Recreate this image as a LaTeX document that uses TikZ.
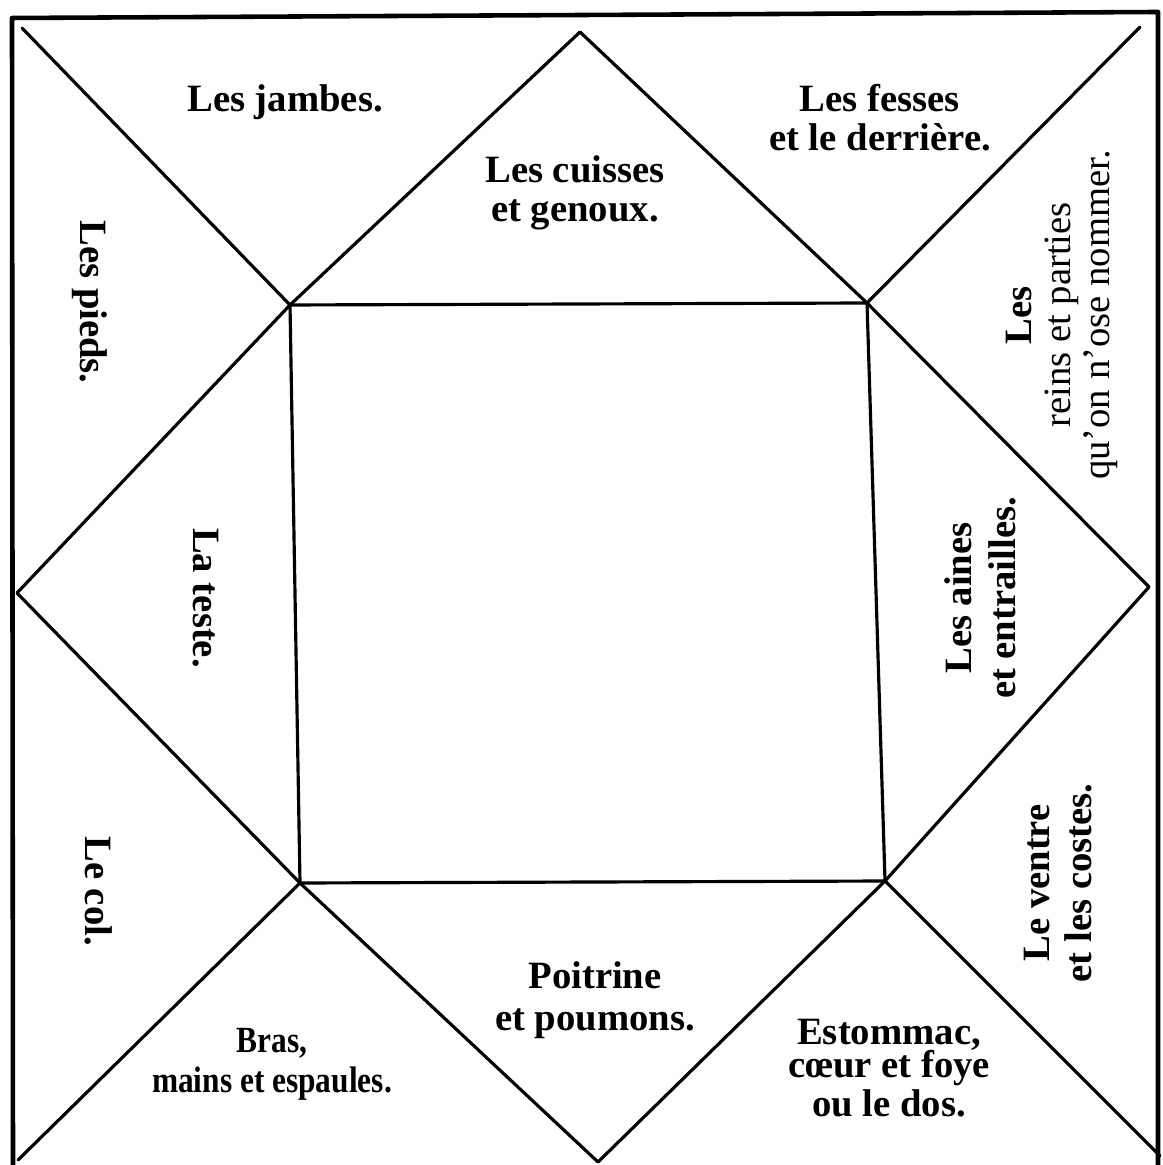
\documentclass[tikz,border=0pt]{standalone}
\usepackage{fontspec}
\setmainfont{Liberation Serif}

\begin{document}
\begin{tikzpicture}[
    x=0.01cm, y=-0.01cm,
    frame/.style={line width=1.3pt, line cap=round, line join=round},
    fold/.style={line width=0.9pt, line cap=round, line join=round},
    region/.style={align=center, inner sep=0pt, font=\fontsize{11}{11}\selectfont\bfseries}
]
    \useasboundingbox (0,0) rectangle (1162,1165);

    \coordinate (fbl) at (13,1165);
    \coordinate (ftl) at (12,18);
    \coordinate (ftr) at (1158,12);
    \coordinate (fbr) at (1158,1165);

    \coordinate (tl) at (22,28);
    \coordinate (tm) at (580,32);
    \coordinate (tr) at (1140,27);
    \coordinate (rm) at (1149,587);
    \coordinate (br) at (1160,1156);
    \coordinate (bm) at (598,1162);
    \coordinate (bl) at (18,1160);
    \coordinate (lm) at (17,593);

    \coordinate (itl) at (290,305);
    \coordinate (itr) at (867,303);
    \coordinate (ibr) at (885,881);
    \coordinate (ibl) at (300,883);

    \draw[frame] (fbl) -- (ftl) -- (ftr) -- (fbr);
    \draw[fold] (itl) -- (itr) -- (ibr) -- (ibl) -- cycle;
    \draw[fold] (tl) -- (itl) -- (tm) -- (itr) -- (tr);
    \draw[fold] (itr) -- (rm) -- (ibr) -- (br);
    \draw[fold] (ibr) -- (bm) -- (ibl) -- (bl);
    \draw[fold] (ibl) -- (lm) -- (itl);

    \node[region] (jambes) at (285,102) {Les jambes.};
    \node[region] (cuisses) at (575,193) {Les cuisses\\et genoux.};
    \node[region] (fesses) at (880,118) {Les fesses\\et le derrière.};
    \node[region, rotate=-90] (pieds) at (90,302) {Les pieds.};
    \node[region, rotate=-90] (teste) at (206,598) {La teste.};
    \node[region, rotate=-90] (col) at (99,891) {Le col.};
    \node[region, xscale=0.85, font=\fontsize{10.5}{11.4}\selectfont\bfseries] (bras) at (272,1064) {Bras,\\mains et espaules.};
    \node[region, font=\fontsize{11}{12}\selectfont\bfseries] (poitrine) at (595,1000) {Poitrine\\et poumons.};
    \node[region, font=\fontsize{11}{9.6}\selectfont\bfseries] (estomac) at (889,1068) {Estommac,\\cœur et foye\\ou le dos.};
    \node[region, rotate=90, font=\fontsize{11}{12}\selectfont\bfseries] (ventre) at (1058,883) {Le ventre\\et les costes.};
    \node[region, rotate=90, font=\fontsize{11}{12.5}\selectfont\bfseries] (aines) at (980,598) {Les aines\\et entrailles.};
    \node[region, rotate=90, font=\fontsize{11}{11}\selectfont] (reins) at (1062,315) {\textbf{Les}\\reins et parties\\qu'on n'ose nommer.};
\end{tikzpicture}
\end{document}
